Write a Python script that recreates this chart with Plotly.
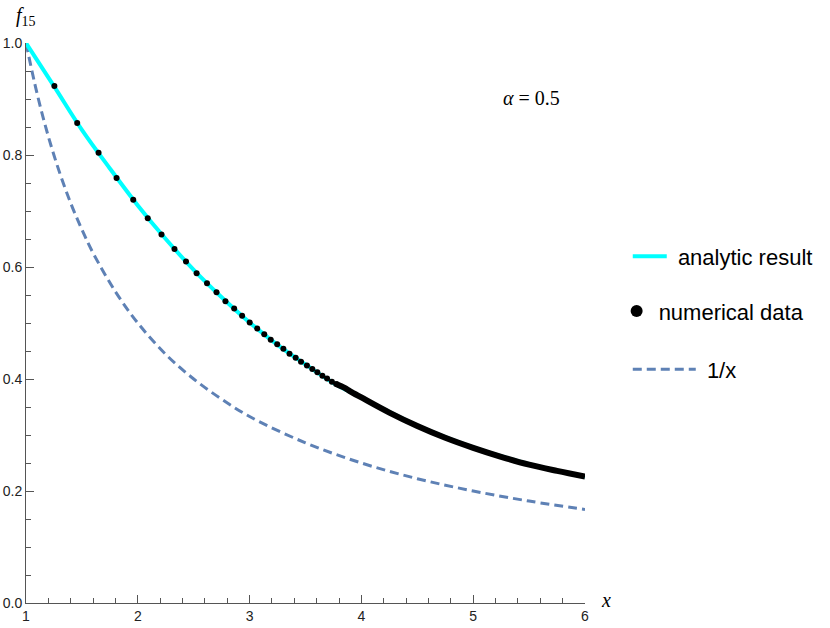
import plotly.graph_objects as go

# values
analytic_x = [1.0, 1.25, 1.5, 1.75, 2.0, 2.25, 2.5, 2.75, 3.0, 3.25, 3.5,
              3.75, 4.0, 4.5, 5.0, 5.5, 6.0]
analytic_y = [1.0, 0.923, 0.845, 0.776, 0.710, 0.650, 0.595, 0.546, 0.501,
              0.461, 0.426, 0.393, 0.367, 0.317, 0.278, 0.248, 0.226]

# resolved dots of the numerical data
num_x = [1.254, 1.458, 1.649, 1.810, 1.959, 2.089, 2.212, 2.328, 2.431, 2.526,
         2.619, 2.704, 2.784, 2.862, 2.933, 3.001, 3.068, 3.131, 3.189, 3.247,
         3.302, 3.357, 3.412, 3.460, 3.513, 3.561, 3.606, 3.651, 3.693, 3.736,
         3.774]
num_y = [0.923, 0.857, 0.804, 0.759, 0.720, 0.687, 0.658, 0.632, 0.610, 0.589,
         0.571, 0.555, 0.539, 0.526, 0.513, 0.501, 0.490, 0.480, 0.470, 0.462,
         0.454, 0.445, 0.438, 0.431, 0.424, 0.418, 0.412, 0.406, 0.401, 0.395,
         0.391]

# past x ~ 3.8 the dots overlap into one solid band
tail_x = [3.774, 3.85, 3.9, 4.0, 4.25, 4.5, 4.75, 5.0, 5.25, 5.5, 5.75, 6.0]
tail_y = [0.391, 0.384, 0.378, 0.367, 0.340, 0.316, 0.295, 0.277, 0.261,
          0.247, 0.236, 0.226]

inv_x = [1.0, 1.1, 1.2, 1.3, 1.4, 1.5, 1.6, 1.8, 2.0, 2.25, 2.5, 2.75, 3.0,
         3.5, 4.0, 4.5, 5.0, 5.5, 6.0]
inv_y = [1.0, 0.909, 0.833, 0.769, 0.714, 0.667, 0.625, 0.556, 0.5, 0.444,
         0.4, 0.364, 0.333, 0.286, 0.25, 0.222, 0.2, 0.182, 0.167]

x_ticks = [1, 2, 3, 4, 5, 6]
y_ticks = [0.0, 0.2, 0.4, 0.6, 0.8, 1.0]

AXIS_GREY = "#555555"
SANS = "Liberation Sans, Arial, sans-serif"
SERIF = "Liberation Serif, Times New Roman, serif"

fig = go.Figure()

fig.add_trace(go.Scatter(
    name=" 1/x",
    x=inv_x,
    y=inv_y,
    mode="lines",
    line=dict(color="#5E81B5", width=3, dash="9px,5px", shape="spline"),
    showlegend=True,
    legend="legend3",
))
fig.add_trace(go.Scatter(
    name=" analytic result",
    x=analytic_x,
    y=analytic_y,
    mode="lines",
    line=dict(color="#00FFFF", width=4, shape="spline"),
    showlegend=True,
    legend="legend",
))
fig.add_trace(go.Scatter(
    name="tail",
    x=tail_x,
    y=tail_y,
    mode="lines",
    line=dict(color="black", width=6, shape="spline"),
    showlegend=False,
    legend="legend2",
))
fig.add_trace(go.Scatter(
    name="numerical data",
    x=num_x,
    y=num_y,
    mode="markers",
    marker=dict(color="black", size=6),
    showlegend=True,
    legend="legend2",
))

axis_common = dict(
    showgrid=False,
    zeroline=False,
    showline=True,
    linecolor=AXIS_GREY,
    linewidth=1,
    ticks="inside",
    ticklen=8,
    tickcolor=AXIS_GREY,
    automargin=False,
    tickfont=dict(family=SANS, size=14, color="#222222"),
)

fig.update_xaxes(
    range=[1, 6],
    tickvals=x_ticks,
    minor=dict(ticks="inside", ticklen=5, dtick=0.2, tickcolor=AXIS_GREY),
    **axis_common,
)
fig.update_yaxes(
    range=[0, 1],
    tickvals=y_ticks,
    tickformat=".1f",
    minor=dict(ticks="inside", ticklen=5, dtick=0.05, tickcolor=AXIS_GREY),
    **axis_common,
)

legend_font = dict(family=SANS, size=22, color="black")
fig.update_layout(
    width=830,
    height=628,
    margin=dict(l=26, r=242, t=43, b=25),
    plot_bgcolor="white",
    paper_bgcolor="white",
    showlegend=True,
    legend=dict(x=1.0765, y=0.619, xanchor="left", yanchor="middle",
                font=legend_font, itemwidth=34, bgcolor="rgba(0,0,0,0)"),
    legend2=dict(x=1.053, y=0.521, xanchor="left", yanchor="middle",
                 font=legend_font, itemwidth=34, itemsizing="constant",
                 bgcolor="rgba(0,0,0,0)"),
    legend3=dict(x=1.0765, y=0.417, xanchor="left", yanchor="middle",
                 font=legend_font, itemwidth=63, bgcolor="rgba(0,0,0,0)"),
    annotations=[
        dict(text="<i>f</i><sub>15</sub>", x=0, y=1.048, xref="paper",
             yref="paper", showarrow=False, xanchor="center", yanchor="middle",
             font=dict(family=SERIF, size=20, color="black")),
        dict(text="<i>x</i>", x=1.037, y=0.005, xref="paper", yref="paper",
             showarrow=False, xanchor="center", yanchor="middle",
             font=dict(family=SERIF, size=20, color="black")),
        dict(text="<i>α</i> = 0.5", x=0.904, y=0.902, xref="paper",
             yref="paper", showarrow=False, xanchor="center", yanchor="middle",
             font=dict(family=SERIF, size=20, color="black")),
    ],
)

# drop the browser's default body margin so the figure sits at the page corner
fig.write_html(
    "out.html",
    config={"displayModeBar": False},
    post_script="document.body.style.margin = '0';",
)
